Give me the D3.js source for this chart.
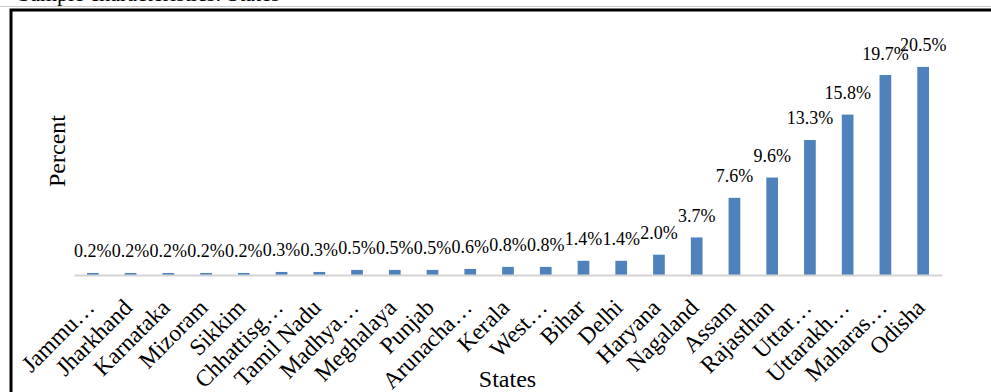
<!DOCTYPE html>
<html>
<head>
<meta charset="utf-8">
<script src="https://cdn.jsdelivr.net/npm/d3@7"></script>
<style>
  html, body { margin: 0; padding: 0; background: #fff; }
  svg { display: block; }
  text { font-family: "Liberation Serif", "Times New Roman", serif; fill: #000; }
</style>
</head>
<body>
<svg id="chart" width="991" height="392"></svg>
<script>
// Share of sample by state (percent)
const states = ["Jammu…", "Jharkhand", "Karnataka", "Mizoram", "Sikkim", "Chhattisg…",
  "Tamil Nadu", "Madhya…", "Meghalaya", "Punjab", "Arunacha…", "Kerala", "West…",
  "Bihar", "Delhi", "Haryana", "Nagaland", "Assam", "Rajasthan", "Uttar…",
  "Uttarakh…", "Maharas…", "Odisha"];
const percents = [0.2, 0.2, 0.2, 0.2, 0.2, 0.3, 0.3, 0.5, 0.5, 0.5, 0.6, 0.8, 0.8,
  1.4, 1.4, 2.0, 3.7, 7.6, 9.6, 13.3, 15.8, 19.7, 20.5];
const yDomain = [0, 25];
const titleText = "Sample characteristics: States";
const xTitle = "States";
const yTitle = "Percent";

const rows = states.map((s, i) => ({ state: s, value: percents[i] }));

const svg = d3.select("#chart");

// heading sitting above the frame, mostly clipped by the page top
svg.append("text")
  .attr("x", 18).attr("y", 0.5)
  .attr("font-size", 22)
  .text(titleText);
svg.append("line")
  .attr("x1", 0).attr("x2", 991).attr("y1", 6.5).attr("y2", 6.5)
  .attr("stroke", "#c8c8c8").attr("stroke-width", 1);

// chart frame
svg.append("rect")
  .attr("x", 11).attr("y", 10)
  .attr("width", 1000).attr("height", 400)
  .attr("fill", "none").attr("stroke", "#000").attr("stroke-width", 3);

const x = d3.scaleBand()
  .domain(states)
  .range([74, 942])
  .paddingInner(0.69)
  .paddingOuter(0.345);

const y = d3.scaleLinear().domain(yDomain).range([275, 21.2]);

// bars
svg.append("g").selectAll("rect")
  .data(rows)
  .join("rect")
  .attr("x", d => x(d.state))
  .attr("width", x.bandwidth())
  .attr("y", d => y(d.value))
  .attr("height", d => y(0) - y(d.value))
  .attr("fill", "#4f81bd");

// value labels
const fmt = d3.format(".1f");
svg.append("g").selectAll("text")
  .data(rows)
  .join("text")
  .attr("x", d => x(d.state) + x.bandwidth() / 2)
  .attr("y", d => y(d.value) - 15.5)
  .attr("text-anchor", "middle")
  .attr("font-size", 18)
  .text(d => fmt(d.value) + "%");

// category axis
const xAxis = svg.append("g")
  .attr("transform", `translate(0,${y(0)})`)
  .call(d3.axisBottom(x).tickSize(0).tickPadding(0));
xAxis.select(".domain").attr("stroke", "#d4d4d4").attr("stroke-width", 2);
xAxis.selectAll(".tick text")
  .attr("font-family", "Liberation Serif, Times New Roman, serif")
  .attr("font-size", 23.5)
  .attr("fill", "#000")
  .attr("text-anchor", "end")
  .attr("dy", null)
  .attr("y", null)
  .attr("transform", "translate(3,34) rotate(-45)");

// axis titles
svg.append("text")
  .attr("x", 507.5).attr("y", 387)
  .attr("text-anchor", "middle")
  .attr("font-size", 24)
  .text(xTitle);

svg.append("text")
  .attr("transform", "translate(65,151) rotate(-90)")
  .attr("text-anchor", "middle")
  .attr("font-size", 24)
  .text(yTitle);
</script>
</body>
</html>
